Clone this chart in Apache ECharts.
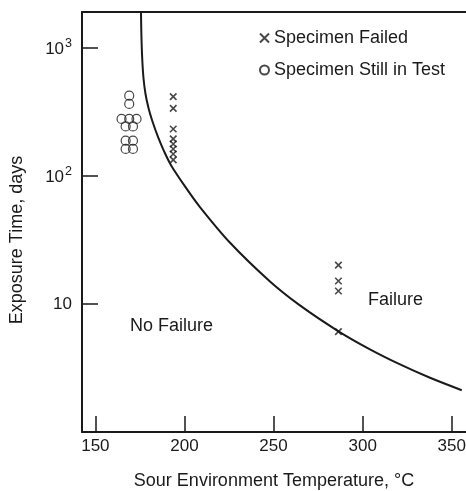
<!DOCTYPE html>
<html>
<head>
<meta charset="utf-8">
<script src="https://cdn.jsdelivr.net/npm/echarts@6/dist/echarts.min.js"></script>
<style>
  html, body { margin: 0; padding: 0; background: #fff; }
  #chart { width: 466px; height: 491px; }
</style>
</head>
<body>
<div id="chart"></div>
<script>
// Axis ticks
const tempTicks = [150, 200, 250, 300, 350];
const dayTicks = [10, 100, 1000];

// Specimens still in test (temperature °C, exposure days)
const stillTemp = [169, 169, 164.7, 169, 173.1, 167, 171.1, 167, 171.1, 167, 171.1];
const stillDays = [422, 364, 278, 278, 278, 243, 243, 188, 188, 162, 162];

// Failed specimens
const failedTemp = [193.7, 193.7, 193.7, 193.7, 193.7, 193.7, 193.7, 193.7, 286.4, 286.4, 286.4, 286.4];
const failedDays = [415, 336, 232, 194, 177, 162, 148, 133, 20.1, 15.1, 12.6, 6.07];

// Failure / no-failure boundary
const boundaryTemp = [175.6, 175.83, 176.28, 177.0, 178.14, 179.82, 181.78, 185.15, 188.5, 192.45, 200.3, 208.7, 225.6, 248.0, 264.8, 286.2, 304.1, 321.0, 337.8, 355.6];
const boundaryDays = [1900, 1256, 831, 580, 435, 338, 272.6, 201, 156, 121, 82.7, 57.0, 30.0, 14.96, 9.73, 6.14, 4.42, 3.37, 2.65, 2.12];

const ink = '#1a1a1a';
const font = '"Liberation Sans", Arial, Helvetica, sans-serif';
const pairs = (xs, ys) => xs.map((x, i) => [x, ys[i]]);

const chart = echarts.init(document.getElementById('chart'), null, { renderer: 'canvas' });

chart.setOption({
  animation: false,
  backgroundColor: '#fff',
  grid: { left: 82, right: 0, top: 12, bottom: 59, containLabel: false, outerBoundsMode: 'none' },
  legend: {
    orient: 'vertical',
    left: 254,
    top: 24,
    itemGap: 14,
    itemWidth: 9,
    itemHeight: 9,
    textStyle: { fontFamily: font, fontSize: 18, color: ink },
    data: ['Specimen Failed', 'Specimen Still in Test']
  },
  xAxis: [{
    type: 'value',
    min: 142.5,
    max: 358,
    name: 'Sour Environment Temperature, °C',
    nameLocation: 'middle',
    nameGap: 40,
    nameTextStyle: { fontFamily: font, fontSize: 18, color: ink },
    axisLine: { lineStyle: { color: ink, width: 2 } },
    axisTick: { inside: true, length: 16, customValues: tempTicks, lineStyle: { color: ink, width: 1.5 } },
    axisLabel: { customValues: tempTicks, margin: 6, fontFamily: font, fontSize: 17, color: ink },
    splitLine: { show: false }
  }, {
    type: 'value',
    position: 'top',
    min: 142.5,
    max: 358,
    axisLine: { show: true, onZero: false, lineStyle: { color: ink, width: 2 } },
    axisTick: { show: false },
    axisLabel: { show: false },
    splitLine: { show: false }
  }],
  yAxis: {
    type: 'log',
    logBase: 10,
    min: 1,
    max: 1900,
    name: 'Exposure Time, days',
    nameLocation: 'middle',
    nameGap: 56,
    nameTextStyle: { fontFamily: font, fontSize: 18, color: ink, padding: [0, 36, 0, 0] },
    axisLine: { show: true, lineStyle: { color: ink, width: 2 } },
    axisTick: { inside: true, length: 16, customValues: dayTicks, lineStyle: { color: ink, width: 1.5 } },
    axisLabel: {
      customValues: dayTicks,
      margin: 10,
      fontFamily: font,
      fontSize: 17,
      color: ink,
      formatter: function (v) {
        const p = Math.round(Math.log10(v));
        return p === 1 ? '{b|10}' : '{b|10}{s|' + p + '}';
      },
      rich: {
        b: { fontFamily: font, fontSize: 17, color: ink, verticalAlign: 'bottom' },
        s: { fontFamily: font, fontSize: 12.5, color: ink, verticalAlign: 'bottom', padding: [0, 0, 8, 1] }
      }
    },
    splitLine: { show: false }
  },
  series: [{
    name: 'Boundary',
    type: 'line',
    data: pairs(boundaryTemp, boundaryDays),
    smooth: 0.3,
    showSymbol: false,
    clip: true,
    lineStyle: { color: ink, width: 2 },
    silent: true
  }, {
    name: 'Specimen Failed',
    type: 'scatter',
    data: pairs(failedTemp, failedDays),
    symbol: 'path://M0,0L10,10M0,10L10,0',
    symbolSize: 6.5,
    itemStyle: { color: 'transparent', borderColor: ink, borderWidth: 1.6 }
  }, {
    name: 'Specimen Still in Test',
    type: 'scatter',
    data: pairs(stillTemp, stillDays),
    symbol: 'circle',
    symbolSize: 9,
    itemStyle: { color: 'transparent', borderColor: ink, borderWidth: 1.2 }
  }],
  graphic: [{
    type: 'text',
    left: 130,
    top: 317,
    style: { text: 'No Failure', fontFamily: font, fontSize: 18, fill: ink }
  }, {
    type: 'text',
    left: 368,
    top: 291,
    style: { text: 'Failure', fontFamily: font, fontSize: 18, fill: ink }
  }]
});
</script>
</body>
</html>
